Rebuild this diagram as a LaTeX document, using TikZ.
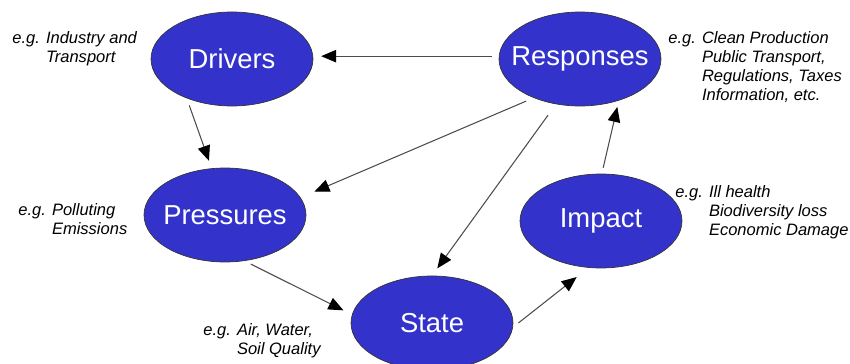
\documentclass[tikz,border=0pt]{standalone}
\usepackage{fontspec}
\setmainfont{Liberation Sans}
\usetikzlibrary{shapes.geometric,arrows.meta}
\definecolor{dpsirblue}{RGB}{51,51,204}
\newcommand{\egnote}[1]{e.g. \begin{tabular}[t]{@{}l@{}}#1\end{tabular}}

\begin{document}
\begin{tikzpicture}[x=0.02cm,y=-0.02cm]
        \tikzstyle{elli}=[ellipse, draw=black!80, fill=dpsirblue, text=white, inner sep=0pt, inner xsep=-0.25cm, minimum width=3.24cm, minimum height=1.88cm, font=\fontsize{15.6}{18}\selectfont]
        \tikzstyle{note}=[anchor=base west, inner sep=0pt, font=\fontsize{9.4}{10.8}\selectfont\itshape]
        \tikzstyle{arr}=[draw=black!70, line width=0.6pt, -{Triangle[length=0.3cm,width=0.25cm,color=black,fill=black]}]

        \useasboundingbox (0,0) rectangle (850,364);

        \node[elli] (drv) at (232,59) {Drivers};
        \node[elli] (rsp) at (580,59) {Responses};
        \node[elli] (prs) at (225,215) {Pressures};
        \node[elli] (imp) at (601,221) {Impact};
        \node[elli] (sta) at (432,323) {State};

        \node[note] (drvnote) at (12,44) {\egnote{Industry and\\Transport}};
        \node[note] (rspnote) at (668,44) {\egnote{Clean Production\\Public Transport,\\Regulations, Taxes\\Information, etc.}};
        \node[note] (prsnote) at (18,216) {\egnote{Polluting\\Emissions}};
        \node[note] (impnote) at (675,198) {\egnote{Ill health\\Biodiversity loss\\Economic Damage}};
        \node[note] (stanote) at (203,336) {\egnote{Air, Water,\\Soil Quality}};

        \draw[arr, shorten <=0.14cm, shorten >=0.16cm] (rsp.178) -- (drv.2);
        \draw[arr, shorten <=0.15cm, shorten >=0.16cm] (drv.221) -- (prs.106);
        \draw[arr, shorten <=0.16cm, shorten >=0.3cm] (rsp.220) -- (prs.13);
        \draw[arr, shorten <=0.27cm, shorten >=0.18cm] (rsp.242) -- (sta.90);
        \draw[arr, shorten <=0.14cm, shorten >=0.19cm] (prs.293) -- (sta.174);
        \draw[arr, shorten <=0.14cm, shorten >=0.3cm] (sta.357) -- (imp.255);
        \draw[arr, shorten <=0.12cm, shorten >=0.13cm] (imp.89) -- (rsp.313);
    \end{tikzpicture}
\end{document}
